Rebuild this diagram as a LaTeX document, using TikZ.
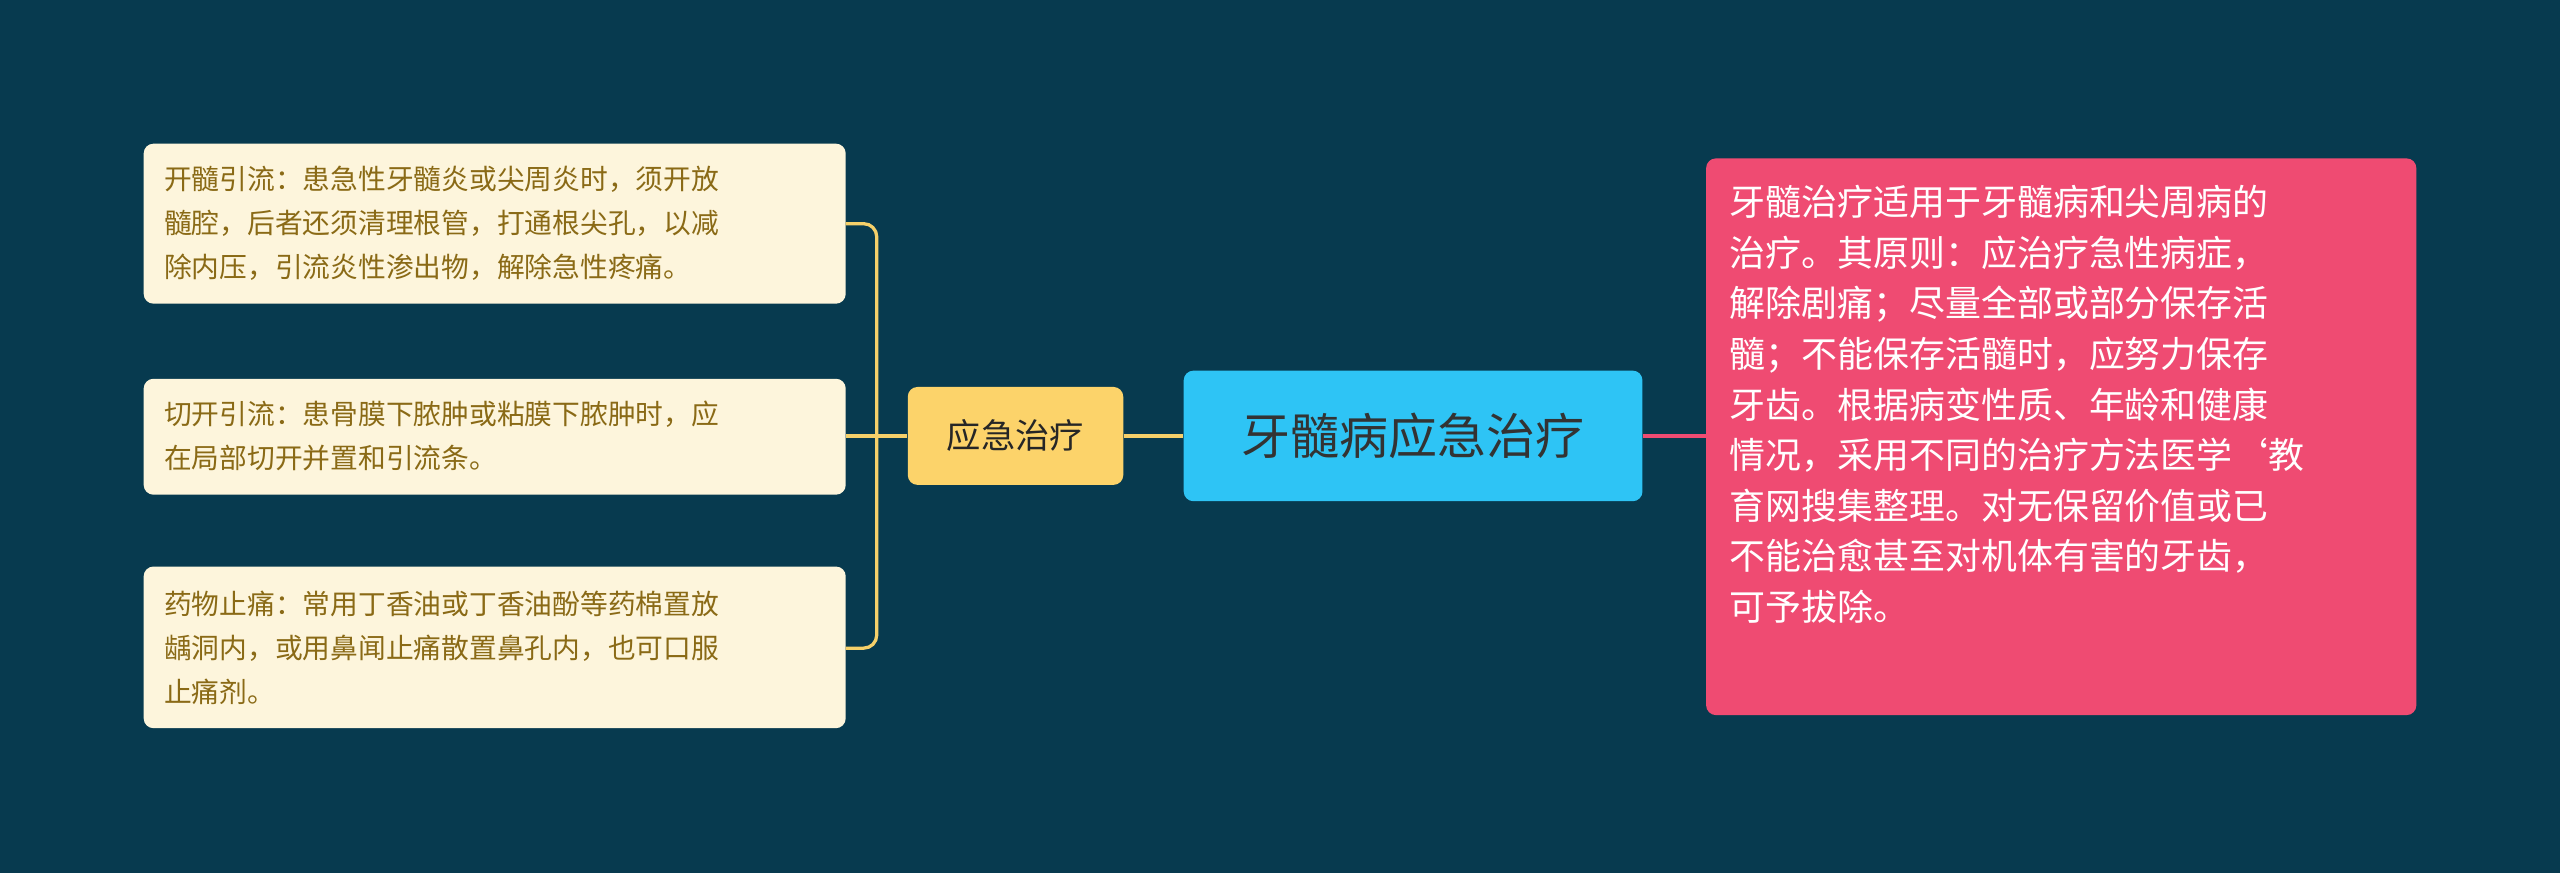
\documentclass[tikz,border=0pt]{standalone}
\usepackage{fontspec}
\setmainfont{Noto Sans CJK SC}
\definecolor{bg}{HTML}{073A4F}
\definecolor{leaf}{HTML}{FDF5DC}
\definecolor{leaftext}{HTML}{8A6A16}
\definecolor{mid}{HTML}{FCD36A}
\definecolor{ctr}{HTML}{2EC4F5}
\definecolor{rt}{HTML}{EF4B72}
\definecolor{ylw}{HTML}{F5D06A}
\begin{document}
\begin{tikzpicture}[x=1pt,y=-1pt,
  leafbox/.style={fill=leaf,rounded corners=6pt,anchor=north west,inner sep=0pt,text=leaftext,align=left,font=\fontsize{17}{27}\selectfont},
  conn/.style={line width=2pt,rounded corners=8pt}]
\fill[bg] (0,0) rectangle (1568,535);
\useasboundingbox (0,0) rectangle (1568,535);
\fill[leaf,rounded corners=6pt] (88,88) rectangle (518,186);
\fill[leaf,rounded corners=6pt] (88,232) rectangle (518,303);
\fill[leaf,rounded corners=6pt] (88,347) rectangle (518,446);
\node[anchor=west,text=leaftext,align=left,font=\fontsize{17}{27}\selectfont] (a) at (97,137) {开髓引流：患急性牙髓炎或尖周炎时，须开放\\髓腔，后者还须清理根管，打通根尖孔，以减\\除内压，引流炎性渗出物，解除急性疼痛。};
\node[anchor=west,text=leaftext,align=left,font=\fontsize{17}{27}\selectfont] (b) at (97,267) {切开引流：患骨膜下脓肿或粘膜下脓肿时，应\\在局部切开并置和引流条。};
\node[anchor=west,text=leaftext,align=left,font=\fontsize{17}{27}\selectfont] (c) at (97,397) {药物止痛：常用丁香油或丁香油酚等药棉置放\\龋洞内，或用鼻闻止痛散置鼻孔内，也可口服\\止痛剂。};
\coordinate (a1) at (518,137);\coordinate (b1) at (518,267);\coordinate (c1) at (518,397);
\node[fill=mid,rounded corners=6pt,minimum width=132pt,minimum height=60pt,inner sep=0pt,font=\fontsize{21}{24}\selectfont,text=black!85] (m) at (622,267) {应急治疗};
\node[fill=ctr,rounded corners=6pt,minimum width=281pt,minimum height=80pt,inner sep=0pt,font=\fontsize{30}{34}\selectfont,text=black!80] (r) at (865.5,267) {牙髓病应急治疗};
\fill[rt,rounded corners=6pt] (1045,97) rectangle (1480,438);
\node[anchor=north west,text=white,align=left,font=\fontsize{22}{31}\selectfont] (t) at (1056,110) {牙髓治疗适用于牙髓病和尖周病的\\治疗。其原则：应治疗急性病症，\\解除剧痛；尽量全部或部分保存活\\髓；不能保存活髓时，应努力保存\\牙齿。根据病变性质、年龄和健康\\情况，采用不同的治疗方法医学`教\\育网搜集整理。对无保留价值或已\\不能治愈甚至对机体有害的牙齿，\\可予拔除。};
\coordinate (t1) at (1045,267);
\draw[ylw,conn] (a1) -- (537,137) -- (537,397) -- (c1);
\draw[ylw,line width=2pt] (b1) -- (m.west);
\draw[ylw,line width=2pt] (m.east) -- (r.west);
\draw[rt,line width=2pt] (r.east) -- (t1);
\end{tikzpicture}
\end{document}
